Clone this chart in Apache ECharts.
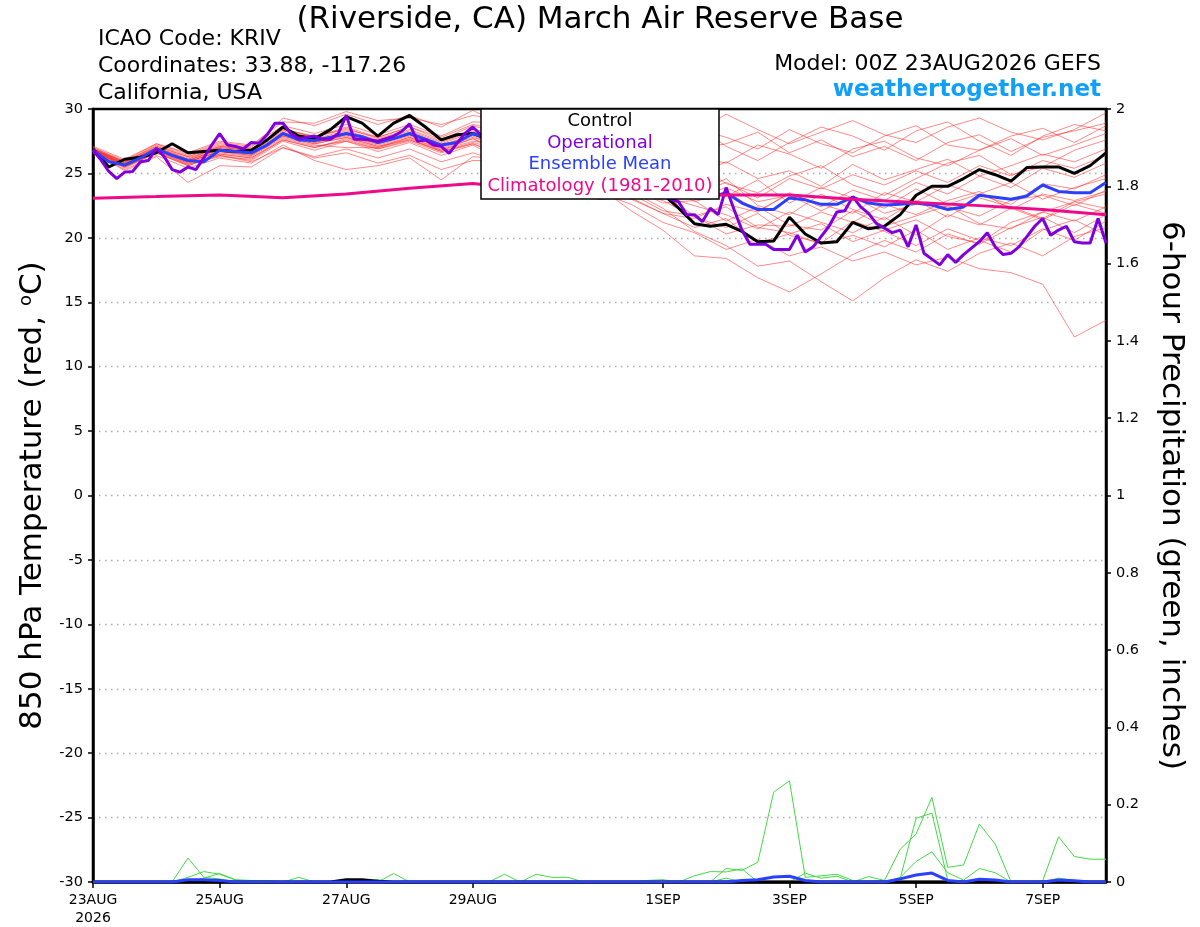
<!DOCTYPE html>
<html><head><meta charset="utf-8">
<script src="https://cdn.jsdelivr.net/npm/echarts@6/dist/echarts.min.js"></script>
<style>html,body{margin:0;padding:0;background:#fff}#c{width:1200px;height:927px}</style>
</head><body><div id="c"></div>
<script>
// ---------- DATA ----------
const xTickHours = [0, 48, 96, 144, 216, 264, 312, 360];
const xTickLabels = ['23AUG\n2026', '25AUG', '27AUG', '29AUG', '1SEP', '3SEP', '5SEP', '7SEP'];
const legendNames = ['Control', 'Operational', 'Ensemble Mean', 'Climatology (1981-2010)'];

// 850 hPa temperature, control run, every 6 h from 0 h to 384 h
const controlTemp = [
 26.9,25.5,26.1,26.25,26.6,27.3,26.6,26.7,26.8,26.7,26.8,27.6,28.6,27.9,27.7,28.4,29.4,28.9,27.9,28.9,29.5,28.6,27.6,28.0,28.1,
 27.6,27.0,27.4,27.1,26.3,26.6,25.9,25.2,25.4,24.5,24.0,23.4,22.3,21.1,20.9,21.05,20.5,19.7,19.75,21.6,20.3,19.6,19.7,21.2,20.7,
 20.9,21.8,23.3,24.0,24.0,24.6,25.3,24.9,24.4,25.45,25.5,25.5,25.0,25.6,26.6
];
// ensemble mean, every 6 h
const meanTemp = [
 26.8,25.9,25.65,26.2,26.9,26.4,26.0,25.9,26.8,26.7,26.6,27.2,28.1,27.6,27.55,27.8,28.1,27.85,27.4,27.7,28.1,27.65,27.2,27.4,28.1,
 27.7,27.3,27.5,27.0,26.5,26.6,26.0,25.6,25.5,24.9,24.5,24.0,23.6,23.1,23.1,23.5,22.7,22.2,22.2,23.1,22.95,22.6,22.6,23.15,22.7,
 22.55,22.6,22.7,22.55,22.2,22.4,23.3,23.15,23.0,23.25,24.1,23.6,23.5,23.5,24.3
];
// operational run, every 3 h
const operTemp = [
 26.8,26.05,25.15,24.6,25.1,25.15,25.9,26.0,26.95,26.3,25.3,25.1,25.5,25.3,26.2,27.2,28.1,27.2,27.1,26.9,
 27.4,27.35,28.0,28.9,28.9,28.1,27.7,27.8,27.9,27.65,27.65,28.1,29.5,27.65,27.65,27.6,27.5,27.7,27.9,28.25,
 28.85,27.5,27.6,27.2,27.1,26.55,27.35,28.1,28.6,28.0,
 27.5,27.1,26.8,27.0,27.4,27.6,27.2,26.6,26.2,26.4,26.7,26.3,25.7,25.3,25.6,25.2,24.8,24.9,24.5,24.0,23.8,23.5,
 23.3,23.0,22.8,21.8,21.8,21.25,22.3,21.8,23.9,22.2,20.6,19.5,19.5,19.5,19.1,19.1,19.1,20.2,18.9,19.3,
 20.1,20.9,22.0,22.1,23.2,22.4,21.9,21.1,20.75,20.4,20.6,19.3,21.0,18.8,18.35,17.9,18.7,18.1,18.7,19.2,
 19.7,20.4,19.3,18.7,18.8,19.3,20.1,20.9,21.5,20.2,20.6,20.9,19.7,19.6,19.6,21.5,19.6
];
// climatology, every 24 h
const climTemp = [23.08,23.2,23.33,23.12,23.4,23.85,24.22,23.7,23.1,23.25,23.33,23.33,23.0,22.75,22.5,22.2,21.8];

// ensemble members, every 12 h (0..384 h)
const memberTemp = [
 [27.0,25.9,27.2,26.4,27.3,27.0,29.3,28.7,29.6,28.8,29.5,28.6,29.9, 28.6,29.2,28.3,27.9,28.8,29.4,28.1,29.6,28.4,27.3,28.2,29.1,28.0,27.4,28.6,29.3,28.2,27.6,28.4,29.7],
 [26.9,25.8,27.0,26.1,27.1,26.9,28.5,27.8,28.6,27.8,28.6,27.6,28.7, 28.0,27.4,28.5,27.2,26.3,27.8,28.9,27.1,26.0,27.4,28.6,27.9,26.8,28.3,29.0,27.5,26.4,27.9,28.8,28.3],
 [26.7,25.4,26.6,25.6,26.5,26.2,27.7,27.1,27.5,26.9,27.6,26.8,27.5, 27.2,26.5,25.8,26.9,25.4,24.6,25.9,24.2,23.5,24.8,25.6,24.1,23.3,24.6,25.8,26.4,24.9,25.5,26.8,27.6],
 [26.8,25.6,26.8,25.8,26.4,25.9,27.0,26.2,26.6,25.8,26.4,25.3,26.0, 26.0,25.4,24.6,23.5,22.6,21.2,20.4,19.1,19.9,18.6,19.3,18.2,18.9,17.9,18.5,17.6,17.3,16.4,12.3,13.6],
 [26.6,25.5,26.7,25.7,26.3,26.1,27.6,27.0,27.7,27.0,27.8,26.8,27.7, 26.6,25.9,25.3,24.4,23.6,22.3,20.5,19.4,17.8,18.2,16.6,15.1,16.9,18.3,17.4,18.8,19.6,18.6,20.1,20.8],
 [26.9,25.7,26.9,25.9,26.7,26.4,27.9,27.3,27.8,27.1,27.6,26.7,27.3, 26.3,25.6,24.5,23.9,22.1,20.6,18.6,18.4,16.9,15.8,17.2,18.7,19.8,18.9,20.3,19.5,20.8,21.6,20.4,21.8],
 [26.8,25.8,27.0,26.2,27.0,26.8,28.3,27.7,28.3,27.6,28.3,27.4,28.3, 27.4,27.9,26.6,25.8,26.4,24.9,23.3,24.6,22.5,21.8,23.4,22.2,21.4,22.9,21.6,23.1,22.4,21.5,22.8,23.4],
 [26.7,25.6,26.8,25.9,26.7,26.5,28.0,27.4,27.9,27.2,27.9,27.0,27.8, 27.0,26.2,25.9,24.8,23.6,22.9,21.6,20.8,21.9,20.2,19.6,21.3,20.5,19.4,20.7,19.8,18.9,20.6,21.4,20.2],
 [26.9,25.9,27.1,26.3,27.1,26.8,28.4,27.9,28.4,27.8,28.6,27.8,28.8, 28.3,28.8,27.4,27.9,26.7,27.6,26.3,25.8,27.2,26.5,25.4,26.9,27.5,26.2,25.6,26.8,27.7,26.4,27.2,28.1],
 [26.8,25.7,26.9,26.0,26.9,26.7,28.1,27.5,28.0,27.3,28.0,27.1,28.0, 27.3,26.8,26.9,25.6,25.1,24.2,22.8,23.6,22.1,23.4,22.6,21.9,23.5,22.8,24.1,23.3,22.6,24.2,23.8,24.9],
 [26.6,25.3,26.4,25.4,26.2,25.8,27.2,26.0,25.3,25.6,26.2,24.5,26.3, 26.1,25.4,25.6,24.2,23.1,21.9,20.8,21.5,19.6,20.3,21.1,19.7,20.6,21.4,20.1,19.6,21.2,22.0,21.3,22.4],
 [27.0,26.0,27.3,26.5,27.4,27.1,28.7,28.1,28.8,28.0,28.8,27.9,29.0, 28.9,28.2,28.6,27.6,28.2,27.1,28.5,27.8,26.9,28.4,27.3,26.6,27.9,28.7,27.2,26.8,27.9,28.5,27.4,28.7],
 [26.8,25.6,26.7,25.8,26.6,26.3,27.8,27.2,27.0,27.0,27.7,26.7,27.4, 26.8,26.1,25.2,25.6,23.9,22.7,22.9,21.3,22.4,21.0,20.6,22.1,20.9,21.7,22.5,21.1,20.7,22.0,22.8,22.3],
 [26.9,25.8,27.0,26.1,27.0,26.8,28.2,27.6,28.2,27.5,28.2,27.3,28.2, 27.6,27.2,26.4,26.8,25.5,24.1,24.6,23.2,24.5,22.7,23.9,23.1,22.3,23.8,22.6,23.4,24.3,23.0,23.9,24.6],
 [26.7,25.5,26.6,25.7,26.5,26.2,27.6,27.0,27.6,26.9,27.5,26.6,27.3, 26.4,25.8,24.9,25.2,23.4,22.1,21.7,20.3,21.0,20.9,22.0,21.2,22.6,21.8,22.9,23.6,22.2,23.4,22.9,23.6],
 [27.1,26.1,27.3,26.6,27.5,27.2,29.0,28.9,29.8,29.1,29.3,28.8,29.5, 29.1,28.7,29.3,28.5,27.4,28.1,26.9,27.3,28.2,26.6,27.6,26.3,27.1,26.0,27.4,28.0,26.7,27.8,28.3,28.9],
 [26.8,25.7,26.9,26.0,26.8,26.5,28.0,27.4,28.0,27.3,28.0,27.1,27.9, 26.9,27.2,26.1,25.3,24.6,23.2,22.5,21.8,20.7,22.0,21.2,20.4,21.6,20.2,21.8,21.0,22.3,21.4,22.6,21.9],
 [26.7,25.2,26.3,24.3,25.6,25.5,27.0,26.3,26.9,26.2,26.9,25.9,26.6, 25.8,25.3,24.8,23.6,23.0,21.9,21.5,22.6,22.0,23.5,22.4,23.7,22.9,24.3,23.4,24.8,23.9,25.4,24.7,25.8],
 [26.9,25.9,27.1,26.3,27.2,26.9,28.4,27.8,28.5,27.7,28.4,27.5,28.4, 28.1,27.6,27.2,26.4,26.7,25.6,24.8,25.9,24.6,25.2,24.0,25.7,24.5,25.3,26.1,24.8,25.6,26.5,25.9,26.9],
 [26.8,25.6,26.8,25.9,26.7,26.4,27.9,27.3,27.8,27.1,27.8,26.9,27.7, 26.5,26.9,25.4,24.7,24.2,23.4,21.7,22.4,20.8,20.4,19.5,20.2,19.3,20.6,19.1,20.0,19.4,20.7,19.8,21.3],
 [26.9,25.7,26.9,26.0,26.9,26.6,28.1,27.6,28.1,27.4,28.1,27.2,28.0, 27.1,26.6,26.4,25.5,24.9,23.8,23.1,23.9,22.8,23.3,22.1,23.2,21.9,22.6,22.4,21.7,22.9,23.3,22.5,23.7],
 [26.8,25.5,26.6,25.6,26.4,26.0,27.5,26.8,27.5,26.7,27.4,26.4,27.2, 25.9,26.3,25.1,24.5,24.4,23.6,23.4,24.3,23.1,24.6,23.8,24.9,24.1,25.2,24.3,25.6,24.8,26.0,25.4,26.4]
];

// 6-hour precipitation (inches), members, every 6 h (rows: 0-72h, 78-150h, 156-228h, 234-306h, 312-384h)
const memberPrecip = [
 [0,0,0,0,0,0,0.062,0.012,0.008,0,0,0,0, 0,0,0,0,0,0,0,0,0,0,0,0,0, 0,0,0,0,0,0,0,0,0,0,0,0,0, 0,0,0,0,0,0,0,0,0,0,0,0,0, 0,0,0,0,0,0,0,0,0,0,0,0,0],
 [0,0,0,0,0,0,0.012,0.027,0.02,0.005,0,0,0, 0,0,0,0,0,0,0,0,0,0,0,0,0, 0,0,0,0,0,0,0,0,0,0,0,0,0, 0,0,0,0,0,0,0,0,0,0,0,0,0, 0,0,0,0,0,0,0,0,0,0,0,0,0],
 [0,0,0,0,0,0,0,0.01,0.022,0.006,0.004,0.004,0, 0,0,0,0,0,0,0,0,0,0,0,0,0, 0,0,0,0,0,0,0,0,0,0,0,0,0, 0,0,0,0,0,0,0,0,0,0,0,0,0, 0,0,0,0,0,0,0,0,0,0,0,0,0],
 [0,0,0,0,0,0,0,0,0,0,0,0,0, 0.012,0,0,0,0,0,0.022,0,0,0,0,0,0, 0.02,0,0.02,0.012,0.012,0,0,0,0,0,0,0,0, 0,0,0,0,0,0,0,0,0,0,0,0,0, 0,0,0,0,0,0,0,0,0,0,0,0,0],
 [0,0,0,0,0,0,0,0,0,0,0,0,0, 0,0,0,0,0,0,0,0,0,0,0,0,0, 0,0,0,0,0,0,0,0,0,0,0,0,0.016, 0.027,0.026,0.034,0,0,0,0,0,0,0,0,0,0, 0,0,0,0,0,0,0,0,0,0,0,0,0],
 [0,0,0,0,0,0,0,0,0,0,0,0,0, 0,0,0,0,0,0,0,0,0,0,0,0,0, 0,0,0,0,0,0,0,0,0,0,0,0,0, 0,0.035,0.03,0.051,0.232,0.262,0.012,0.016,0.02,0.004,0,0,0, 0,0,0,0,0,0,0,0,0,0,0,0,0],
 [0,0,0,0,0,0,0,0,0,0,0,0,0, 0,0,0,0,0,0,0,0,0,0,0,0,0, 0,0,0,0,0,0,0,0,0,0.004,0.006,0,0, 0,0.01,0,0,0,0,0.023,0.01,0.015,0,0.014,0.004,0, 0,0,0,0,0,0,0,0,0,0,0,0,0],
 [0,0,0,0,0,0,0,0,0,0,0,0,0, 0,0,0,0,0,0,0,0,0,0,0,0,0, 0,0,0,0,0,0,0,0,0,0,0,0,0, 0,0,0,0,0,0,0,0,0,0,0,0.004,0.085, 0.124,0.219,0.038,0.044,0.15,0.098,0,0,0,0,0,0,0],
 [0,0,0,0,0,0,0,0,0,0,0,0,0, 0,0,0,0,0,0,0,0,0,0,0,0,0, 0,0,0,0,0,0,0,0,0,0,0,0,0, 0,0,0,0,0,0,0,0,0,0,0,0,0.01, 0.165,0.178,0.005,0,0,0,0,0,0,0,0,0,0],
 [0,0,0,0,0,0,0,0,0,0,0,0,0, 0,0,0,0,0,0,0,0,0,0,0,0,0, 0,0,0,0,0,0,0,0,0,0,0,0,0, 0,0,0,0,0,0,0,0,0,0,0,0,0.012, 0.053,0.078,0.024,0.005,0.035,0.024,0,0,0,0,0,0,0],
 [0,0,0,0,0,0,0,0,0,0,0,0,0, 0,0,0,0,0,0,0,0,0,0,0,0,0, 0,0,0,0,0,0,0,0,0,0,0,0,0, 0,0,0,0,0,0,0,0,0,0,0,0,0, 0,0,0,0,0,0,0,0,0.003,0.117,0.066,0.059,0.059],
 [0,0,0,0,0,0,0,0,0,0,0,0,0, 0,0,0,0,0,0.006,0,0,0,0,0,0,0, 0,0,0,0,0,0,0,0,0,0,0,0,0, 0,0,0,0,0,0,0,0,0,0,0,0,0, 0,0,0,0,0,0,0,0,0,0.01,0.004,0,0]
];
const meanPrecip = [
 0,0,0,0,0,0,0.006,0.006,0.004,0,0,0,0, 0,0,0,0,0,0,0,0,0,0,0,0,0, 0,0,0,0,0,0,0,0,0,0,0,0,0,
 0,0,0.004,0.006,0.013,0.015,0.004,0,0,0,0,0,0.008, 0.018,0.023,0.004,0,0.007,0.005,0,0,0,0.005,0.003,0,0
];
const controlPrecip = [
 0,0,0,0,0,0,0,0,0,0,0,0,0, 0,0,0,0.006,0.006,0.002,0,0,0,0,0,0,0, 0,0,0,0,0,0,0,0,0,0,0,0,0,
 0,0,0,0,0,0,0,0,0,0,0,0,0, 0,0,0,0,0,0,0,0,0,0,0,0,0
];

// ---------- CHART ----------
const FONT = 'DejaVu Sans';
const COL = {control:'#000000', oper:'#8000dd', mean:'#2a40ff', clim:'#ee0a88', red:'rgba(255,45,45,0.7)', green:'#45d845'};
const pairs = (arr, step) => arr.map((v, i) => [i * step, v]);
const labelMap = {};
xTickHours.forEach((h, i) => { labelMap[h] = xTickLabels[i]; });

const series = [];
memberTemp.forEach((m, k) => series.push({
  name: 'm' + k, type: 'line', data: pairs(m, 12), yAxisIndex: 0, symbol: 'none', silent: true, z: 2,
  lineStyle: {color: COL.red, width: 0.8}
}));
memberPrecip.forEach((m, k) => series.push({
  name: 'p' + k, type: 'line', data: pairs(m, 6), yAxisIndex: 1, symbol: 'none', silent: true, z: 2,
  lineStyle: {color: COL.green, width: 1}
}));
series.push({name: 'controlPrecip', type: 'line', data: pairs(controlPrecip, 6), yAxisIndex: 1, symbol: 'none', z: 3, lineStyle: {color: COL.control, width: 3}});
series.push({name: 'meanPrecip', type: 'line', data: pairs(meanPrecip, 6), yAxisIndex: 1, symbol: 'none', z: 3, lineStyle: {color: COL.mean, width: 3}});
series.push({name: legendNames[0], type: 'line', data: pairs(controlTemp, 6), yAxisIndex: 0, symbol: 'none', z: 4, lineStyle: {color: COL.control, width: 3}});
series.push({name: legendNames[2], type: 'line', data: pairs(meanTemp, 6), yAxisIndex: 0, symbol: 'none', z: 5, lineStyle: {color: COL.mean, width: 3}});
series.push({name: legendNames[1], type: 'line', data: pairs(operTemp, 3), yAxisIndex: 0, symbol: 'none', z: 6, lineStyle: {color: COL.oper, width: 3}});
series.push({name: legendNames[3], type: 'line', data: pairs(climTemp, 24), yAxisIndex: 0, symbol: 'none', z: 7, lineStyle: {color: COL.clim, width: 3}});

const txt = (x, y, text, size, color, align, weight) => ({
  type: 'text', x: x, y: y, z: 100,
  style: {text: text, fontSize: size, fontFamily: FONT, fontWeight: weight || 'normal', fill: color, align: align, verticalAlign: 'middle'}
});

const option = {
  animation: false,
  backgroundColor: '#ffffff',
  textStyle: {fontFamily: FONT},
  grid: {left: 93, right: 94, top: 109, bottom: 41, show: true, borderColor: '#000', borderWidth: 2.5, backgroundColor: 'transparent'},
  xAxis: {
    type: 'value', min: 0, max: 384,
    axisLine: {show: true, onZero: false, lineStyle: {color: '#000', width: 2.5}},
    axisTick: {show: true, customValues: xTickHours, length: 6, lineStyle: {color: '#000', width: 1.5}},
    axisLabel: {customValues: xTickHours, formatter: v => labelMap[v] || '', color: '#000', fontSize: 14, fontFamily: FONT, margin: 9, lineHeight: 18, hideOverlap: false, showMinLabel: true, showMaxLabel: true},
    splitLine: {show: false}
  },
  yAxis: [
    {
      type: 'value', min: -30, max: 30, interval: 5, position: 'left',
      name: '850 hPa Temperature (red, {sup|o}C)', nameLocation: 'middle', nameGap: 44, nameRotate: 90,
      nameTextStyle: {fontSize: 31, color: '#000', fontFamily: FONT, rich: {sup: {fontSize: 18, fontFamily: FONT, color: '#000', verticalAlign: 'top', lineHeight: 31}}},
      axisLine: {show: true, lineStyle: {color: '#000', width: 2.5}},
      axisTick: {show: true, length: 5, lineStyle: {color: '#000', width: 1.5}},
      axisLabel: {color: '#000', fontSize: 14.5, fontFamily: FONT, margin: 10},
      splitLine: {show: true, showMinLine: false, showMaxLine: false, lineStyle: {color: '#aaaaaa', width: 1.3, type: [1.5, 4.5]}}
    },
    {
      type: 'value', min: 0, max: 2, interval: 0.2, position: 'right',
      name: '6-hour Precipitation (green, inches)', nameLocation: 'middle', nameGap: 50, nameRotate: -90,
      nameTextStyle: {fontSize: 31, color: '#000', fontFamily: FONT},
      axisLine: {show: true, lineStyle: {color: '#000', width: 2.5}},
      axisTick: {show: true, length: 5, lineStyle: {color: '#000', width: 1.5}},
      axisLabel: {color: '#000', fontSize: 14.5, fontFamily: FONT, margin: 10},
      splitLine: {show: false}
    }
  ],
  series: series,
  graphic: {elements: [
    txt(600, 20, '(Riverside, CA) March Air Reserve Base', 31, '#000', 'center'),
    txt(98, 39, 'ICAO Code: KRIV', 22, '#000', 'left'),
    txt(98, 66, 'Coordinates: 33.88, -117.26', 22, '#000', 'left'),
    txt(98, 93, 'California, USA', 22, '#000', 'left'),
    txt(1101, 64, 'Model: 00Z 23AUG2026 GEFS', 22, '#000', 'right'),
    txt(1101, 90, 'weathertogether.net', 23, '#10a0f8', 'right', 'bold'),
    {type: 'rect', z: 99, shape: {x: 481, y: 109, width: 238, height: 90}, style: {fill: '#fff', stroke: '#000', lineWidth: 1.5}},
    txt(600, 121, legendNames[0], 18, COL.control, 'center'),
    txt(600, 143, legendNames[1], 18, COL.oper, 'center'),
    txt(600, 164.5, legendNames[2], 18, COL.mean, 'center'),
    txt(600, 186, legendNames[3], 18, COL.clim, 'center')
  ]}
};
const chart = echarts.init(document.getElementById('c'), null, {renderer: 'canvas'});
chart.setOption(option);
</script></body></html>
